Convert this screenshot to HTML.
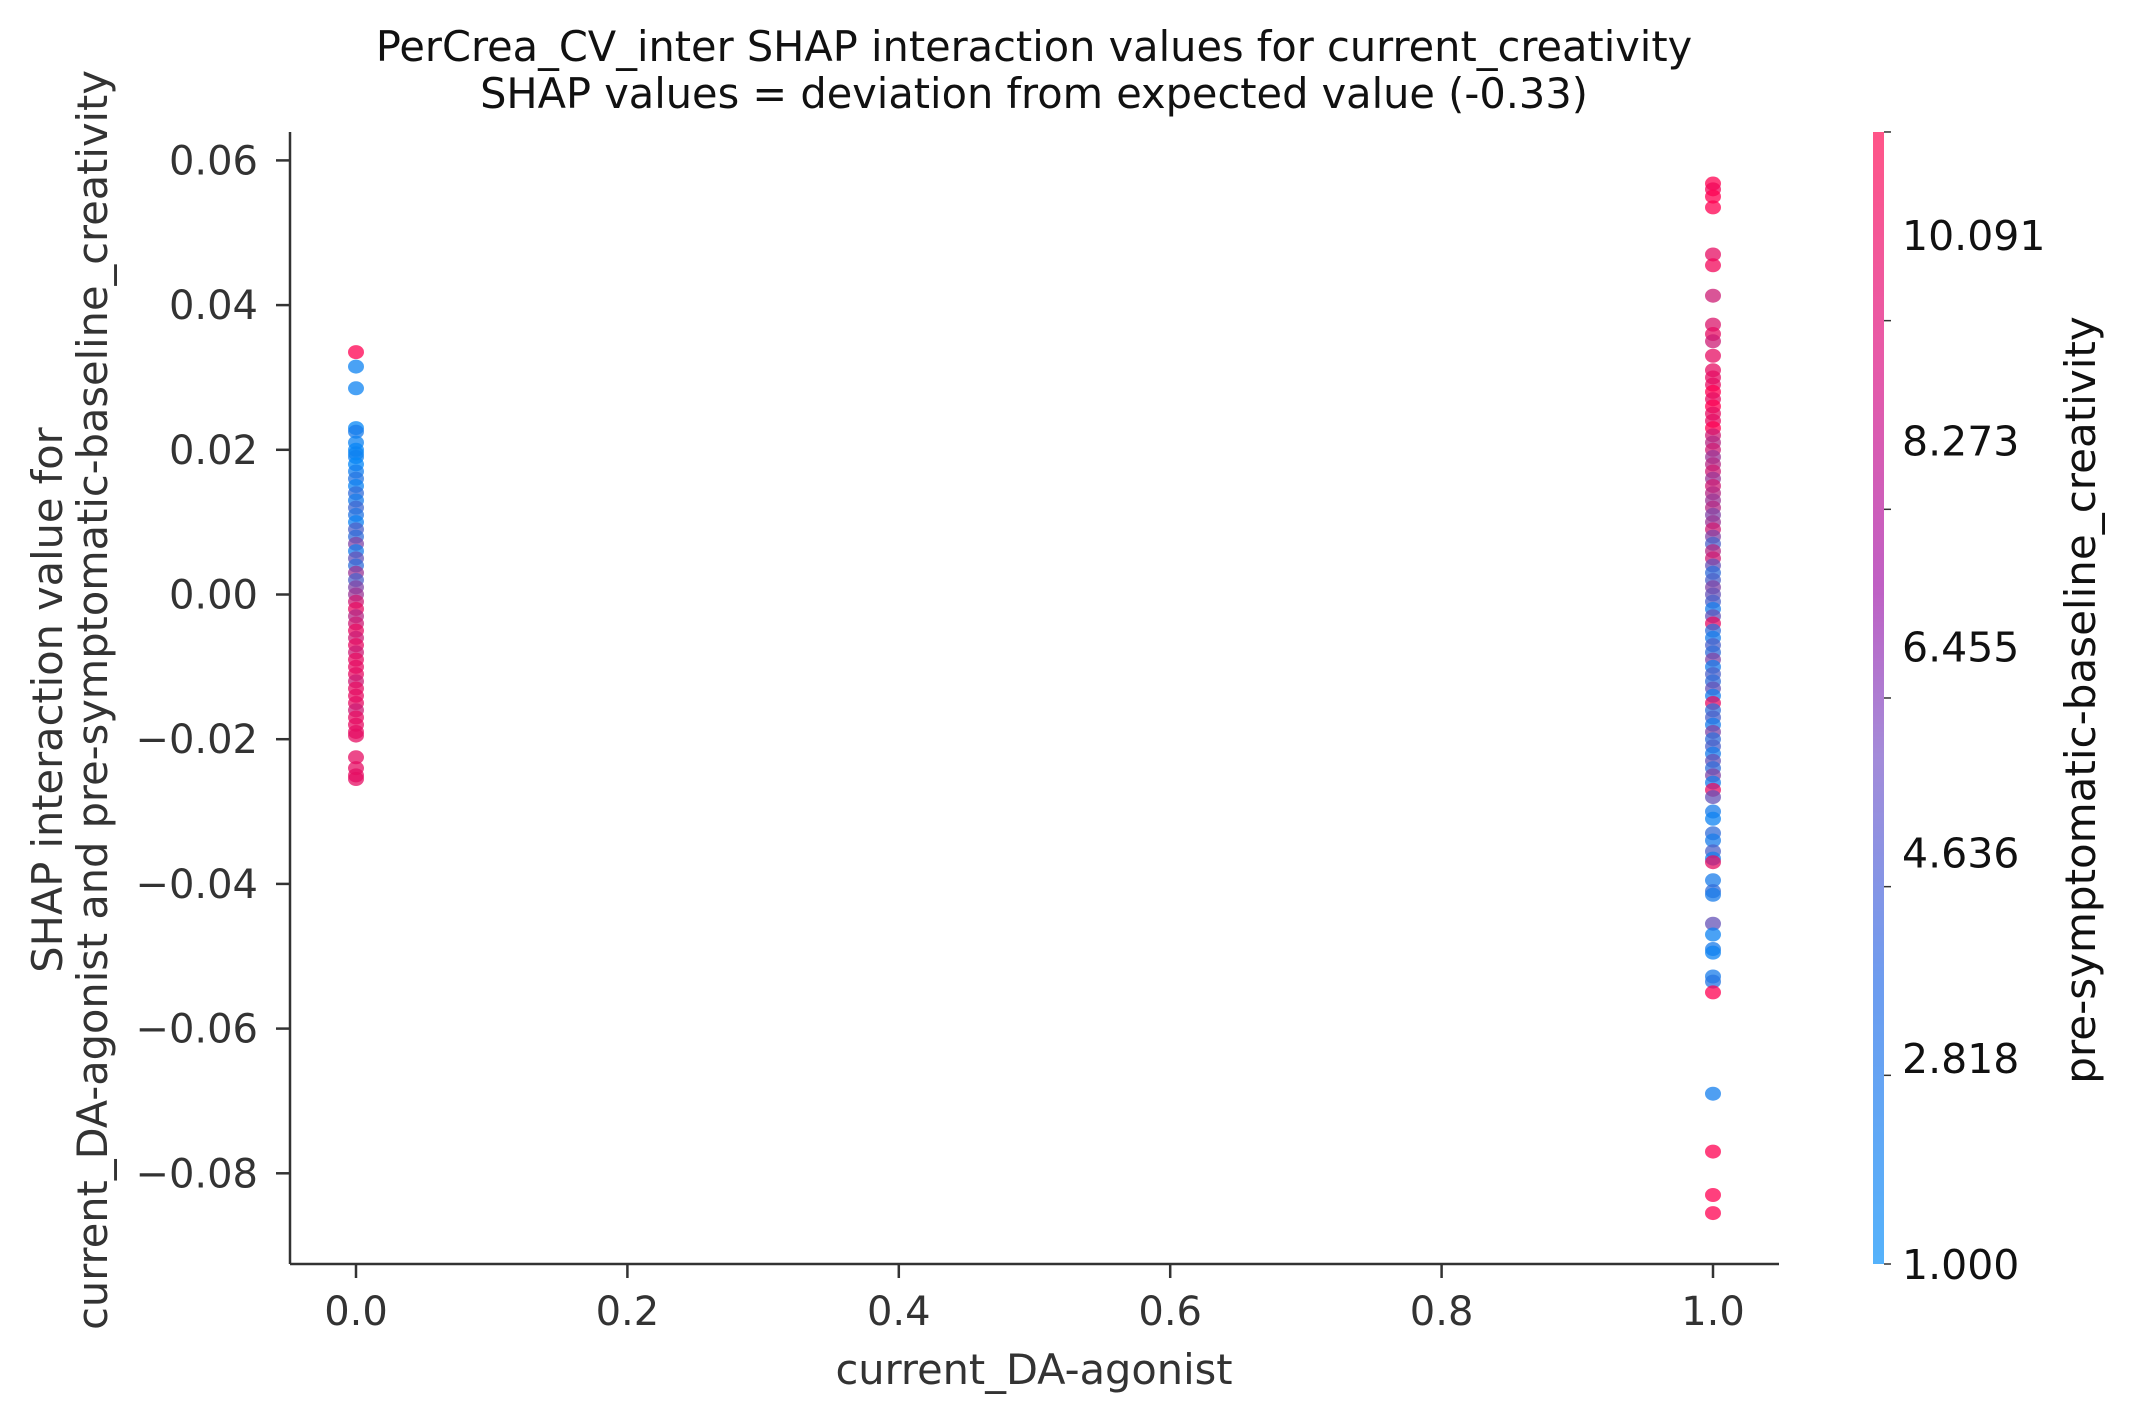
<!DOCTYPE html>
<html><head><meta charset="utf-8"><style>
body{margin:0;background:#fff;}
svg text{font-family:"DejaVu Sans","Liberation Sans",sans-serif;}
</style></head><body>
<svg id="chart" width="2133" height="1422" xmlns="http://www.w3.org/2000/svg">
<defs>
<linearGradient id="cbg" x1="0" y1="1" x2="0" y2="0">
<stop offset="0" stop-color="#55b2fb"/>
<stop offset="0.25" stop-color="#6e9cef"/>
<stop offset="0.45" stop-color="#a48bd9"/>
<stop offset="0.6" stop-color="#c060c4"/>
<stop offset="0.8" stop-color="#e75aa8"/>
<stop offset="1" stop-color="#ff5588"/>
</linearGradient>
</defs>
<text x="1034" y="61" font-size="41.5" text-anchor="middle" fill="#111">PerCrea_CV_inter SHAP interaction values for current_creativity</text>
<text x="1034" y="108" font-size="41.5" text-anchor="middle" fill="#111">SHAP values = deviation from expected value (-0.33)</text>
<g id="axes"></g>
<g id="points"></g>
<g>
<rect x="1873" y="132" width="11" height="1132" fill="url(#cbg)"/>
<g id="cbticks"></g>
<text transform="translate(2095,700) rotate(-90)" font-size="42" text-anchor="middle" fill="#111">pre-symptomatic-baseline_creativity</text>
</g>
<text x="1034" y="1384" font-size="41.5" text-anchor="middle" fill="#333">current_DA-agonist</text>
<text transform="translate(62,700) rotate(-90)" font-size="41.5" text-anchor="middle" fill="#333">SHAP interaction value for</text>
<text transform="translate(107,700) rotate(-90)" font-size="41.5" text-anchor="middle" fill="#333">current_DA-agonist and pre-symptomatic-baseline_creativity</text>
</svg>
<script>
const xTicks=[0.0,0.2,0.4,0.6,0.8,1.0];
const xTickLabels=["0.0","0.2","0.4","0.6","0.8","1.0"];
const yTicks=[0.06,0.04,0.02,0.0,-0.02,-0.04,-0.06,-0.08];
const yTickLabels=["0.06","0.04","0.02","0.00","\u22120.02","\u22120.04","\u22120.06","\u22120.08"];
const cbTicks=[1.0,2.818,4.636,6.455,8.273,10.091];
const cbTickLabels=["1.000","2.818","4.636","6.455","8.273","10.091"];
const group0Shap=[0.0335,0.0315,0.0285,0.023,0.0225,0.021,0.020,0.0195,0.019,0.018,0.017,0.016,0.015,0.014,0.013,0.012,0.011,0.010,0.009,0.008,0.007,0.006,0.005,0.004,0.003,0.002,0.001,0.0,-0.001,-0.002,-0.003,-0.004,-0.005,-0.006,-0.007,-0.008,-0.009,-0.010,-0.011,-0.012,-0.013,-0.014,-0.015,-0.016,-0.017,-0.018,-0.019,-0.0195,-0.0225,-0.024,-0.025,-0.0255];
const group0Feat=[11,1.5,1.5,1.2,2,1.5,1.3,1.4,1.6,1.2,1.8,2.5,1.5,3,2,3.5,2.5,1.6,4,3,6,2,5,3,7,4,6,7,9,10,8,9,10,9,10,9,10,10,10,9,10,10,10,9,10,10,10,10,10,10,10,10];
const group1Shap=[0.0568,0.056,0.055,0.0535,0.047,0.0455,0.0413,0.0373,0.036,0.035,0.033,0.031,0.030,0.029,0.028,0.027,0.026,0.025,0.024,0.023,0.022,0.021,0.020,0.019,0.018,0.017,0.016,0.015,0.014,0.013,0.012,0.011,0.010,0.009,0.008,0.007,0.006,0.005,0.004,0.003,0.002,0.001,0.0,-0.001,-0.002,-0.003,-0.004,-0.005,-0.006,-0.007,-0.008,-0.009,-0.010,-0.011,-0.012,-0.013,-0.014,-0.015,-0.016,-0.017,-0.018,-0.019,-0.020,-0.021,-0.022,-0.023,-0.024,-0.025,-0.026,-0.027,-0.028,-0.030,-0.031,-0.033,-0.034,-0.0355,-0.0365,-0.037,-0.0395,-0.041,-0.0415,-0.0455,-0.047,-0.049,-0.0495,-0.0528,-0.0535,-0.055,-0.069,-0.077,-0.083,-0.0855];
const group1Feat=[11,10.5,11,11,10,10.5,9,9.5,10,9,10,10,10,10,11,10,11,10,10,11,9,8,9,7,8,9,7,9,8,7,8,6,7,9,6,4,8,9,5,3,4,6,5,4,2,5,10,3,2,4,3,6,2,4,3,5,2,10,3,4,2,6,3,4,2,5,3,6,2,10,5,2,1.5,3,2,4,2,10,2,3,2,5,1.5,2,1.5,2,2.5,11,1.8,11,11,11];

const NS='http://www.w3.org/2000/svg';
const L=290,R=1779,T=132,B=1264;
const X=v=>356+(1713-356)*v;
const Y=v=>594.5-(v/0.02)*(594.5-449.8)*1;
const CB=v=>1264-(v-1)/(11-1)*(1264-132);
function col(f){const t=Math.max(0,Math.min(1,(f-1)/10));
 const r=Math.round(0+255*t),g=Math.round(138-138*t),b=Math.round(250-168*t);return `rgb(${r},${g},${b})`;}
function mk(tag,attrs,parent){const e=document.createElementNS(NS,tag);for(const k in attrs)e.setAttribute(k,attrs[k]);parent.appendChild(e);return e;}
const axes=document.getElementById('axes');
let e=mk('line',{x1:L,y1:T,x2:L,y2:B,stroke:'#333','stroke-width':2.5},axes);


e=mk('line',{x1:L,y1:B,x2:R,y2:B,stroke:'#333','stroke-width':2.5},axes);


xTicks.forEach((v,i)=>{
 const t=mk('line',{x1:X(v),y1:B,x2:X(v),y2:B+14,stroke:'#333','stroke-width':2.5},axes);
 
 
 const l=mk('text',{x:X(v),y:1325,'font-size':40,'text-anchor':'middle',fill:'#333'},axes);
 l.textContent=xTickLabels[i];
 
 
});
yTicks.forEach((v,i)=>{
 const t=mk('line',{x1:L-14,y1:Y(v),x2:L,y2:Y(v),stroke:'#333','stroke-width':2.5},axes);
 
 
 const l=mk('text',{x:L-32,y:Y(v)+14,'font-size':40,'text-anchor':'end',fill:'#333'},axes);
 l.textContent=yTickLabels[i];
 
 
});
const cbt=document.getElementById('cbticks');
cbTicks.forEach((v,i)=>{
 const l=mk('text',{x:1902,y:CB(v)+15,'font-size':41,fill:'#111'},cbt);
 l.textContent=cbTickLabels[i];
 
 
});
for(let k=0;k<=6;k++){const v=1+k*1.6667;const t=mk('line',{x1:1884,y1:CB(v),x2:1891,y2:CB(v),stroke:'#333','stroke-width':1.5},cbt);
 
 }
const pts=document.getElementById('points');
function draw(xv,shap,feat,name){shap.forEach((s,i)=>{
 const c=mk('ellipse',{cx:X(xv),cy:Y(s),rx:8,ry:7,fill:col(feat[i]),'fill-opacity':0.75},pts);
 
 
});}
draw(0,group0Shap,group0Feat,'point-da-agonist-0');
draw(1,group1Shap,group1Feat,'point-da-agonist-1');
</script>
</body></html>
